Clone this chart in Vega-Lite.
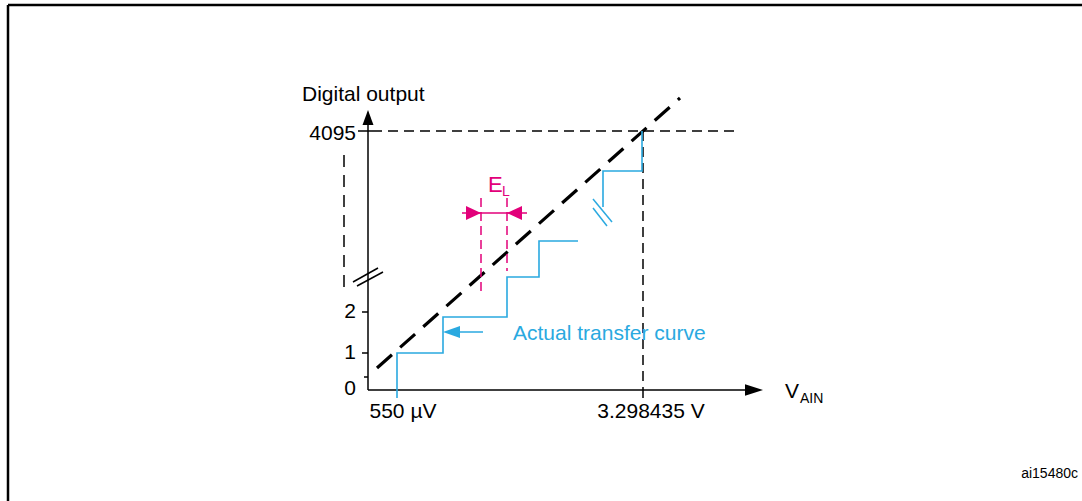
{
  "$schema": "https://vega.github.io/schema/vega-lite/v6.json",
  "width": 1082,
  "height": 501,
  "padding": 0,
  "autosize": {"type": "none"},
  "background": "white",
  "config": {"view": {"stroke": null}},
  "datasets": {
    "segs": [
      {"g": "frame", "x": 8, "y": 5, "x2": 1082, "y2": 5},
      {"g": "frame", "x": 8, "y": 5, "x2": 8, "y2": 501},
      {"g": "axis", "x": 368, "y": 390, "x2": 368, "y2": 123},
      {"g": "axis", "x": 368, "y": 390, "x2": 748, "y2": 390},
      {"g": "axis", "x": 358, "y": 131, "x2": 372, "y2": 131},
      {"g": "axis", "x": 362, "y": 312, "x2": 368, "y2": 312},
      {"g": "axis", "x": 362, "y": 353, "x2": 368, "y2": 353},
      {"g": "axis", "x": 364, "y": 377, "x2": 368, "y2": 377},
      {"g": "axis", "x": 643, "y": 390, "x2": 643, "y2": 398},
      {"g": "axis", "x": 353, "y": 282, "x2": 378, "y2": 268},
      {"g": "axis", "x": 357, "y": 286, "x2": 383, "y2": 272},
      {"g": "dash", "x": 372, "y": 131, "x2": 735, "y2": 131},
      {"g": "dash", "x": 643, "y": 131, "x2": 643, "y2": 390},
      {"g": "dash2", "x": 344, "y": 155, "x2": 344, "y2": 294},
      {"g": "ideal", "x": 377, "y": 368, "x2": 680, "y2": 98},
      {"g": "blue", "x": 458, "y": 332, "x2": 483, "y2": 332},
      {"g": "blue", "x": 593, "y": 199, "x2": 612, "y2": 222},
      {"g": "blue", "x": 593, "y": 208, "x2": 607, "y2": 226},
      {"g": "mag", "x": 462, "y": 213, "x2": 527, "y2": 213},
      {"g": "magdash", "x": 481, "y": 198, "x2": 481, "y2": 295},
      {"g": "magdash", "x": 507, "y": 198, "x2": 507, "y2": 271}
    ],
    "paths": [
      {"p": "low", "i": 0, "x": 397, "y": 398},
      {"p": "low", "i": 1, "x": 397, "y": 353},
      {"p": "low", "i": 2, "x": 443, "y": 353},
      {"p": "low", "i": 3, "x": 443, "y": 317},
      {"p": "low", "i": 4, "x": 507, "y": 317},
      {"p": "low", "i": 5, "x": 507, "y": 277},
      {"p": "low", "i": 6, "x": 539, "y": 277},
      {"p": "low", "i": 7, "x": 539, "y": 241},
      {"p": "low", "i": 8, "x": 578, "y": 241},
      {"p": "high", "i": 0, "x": 603, "y": 207},
      {"p": "high", "i": 1, "x": 603, "y": 171},
      {"p": "high", "i": 2, "x": 642, "y": 171},
      {"p": "high", "i": 3, "x": 642, "y": 131}
    ],
    "heads": [
      {"h": "up", "x": 368, "y": 117.5},
      {"h": "right", "x": 754, "y": 390},
      {"h": "blueleft", "x": 451.5, "y": 332},
      {"h": "magright", "x": 473.5, "y": 213},
      {"h": "magleft", "x": 514.5, "y": 213}
    ],
    "labels": [
      {"g": "left", "t": "Digital output", "x": 302, "y": 101},
      {"g": "right", "t": "4095", "x": 356, "y": 140},
      {"g": "right", "t": "2", "x": 356, "y": 318},
      {"g": "right", "t": "1", "x": 356, "y": 359},
      {"g": "right", "t": "0", "x": 356, "y": 395},
      {"g": "center", "t": "550 µV", "x": 403, "y": 418},
      {"g": "center", "t": "3.298435 V", "x": 651, "y": 418},
      {"g": "left", "t": "V", "x": 785, "y": 398},
      {"g": "sub", "t": "AIN", "x": 800, "y": 403},
      {"g": "blue", "t": "Actual transfer curve", "x": 513, "y": 340},
      {"g": "mag", "t": "E", "x": 488, "y": 192},
      {"g": "magsub", "t": "L", "x": 502, "y": 196},
      {"g": "note", "t": "ai15480c", "x": 1078, "y": 478}
    ]
  },
  "encoding": {
    "x": {"field": "x", "type": "quantitative", "axis": null, "scale": {"domain": [0, 1082], "nice": false, "zero": false}},
    "y": {"field": "y", "type": "quantitative", "axis": null, "scale": {"domain": [0, 501], "reverse": true, "nice": false, "zero": false}}
  },
  "layer": [
    {"data": {"name": "segs"}, "transform": [{"filter": "datum.g === 'frame'"}],
     "mark": {"type": "rule", "color": "black", "strokeWidth": 2.5},
     "encoding": {"x2": {"field": "x2"}, "y2": {"field": "y2"}}},
    {"data": {"name": "segs"}, "transform": [{"filter": "datum.g === 'axis'"}],
     "mark": {"type": "rule", "color": "black", "strokeWidth": 1.5},
     "encoding": {"x2": {"field": "x2"}, "y2": {"field": "y2"}}},
    {"data": {"name": "segs"}, "transform": [{"filter": "datum.g === 'dash'"}],
     "mark": {"type": "rule", "color": "black", "strokeWidth": 1.5, "strokeDash": [10, 6]},
     "encoding": {"x2": {"field": "x2"}, "y2": {"field": "y2"}}},
    {"data": {"name": "segs"}, "transform": [{"filter": "datum.g === 'dash2'"}],
     "mark": {"type": "rule", "color": "black", "strokeWidth": 1.5, "strokeDash": [12, 8]},
     "encoding": {"x2": {"field": "x2"}, "y2": {"field": "y2"}}},
    {"data": {"name": "segs"}, "transform": [{"filter": "datum.g === 'ideal'"}],
     "mark": {"type": "rule", "color": "black", "strokeWidth": 3.2, "strokeDash": [20, 11], "strokeCap": "butt"},
     "encoding": {"x2": {"field": "x2"}, "y2": {"field": "y2"}}},
    {"data": {"name": "segs"}, "transform": [{"filter": "datum.g === 'blue'"}],
     "mark": {"type": "rule", "color": "#2AA9E0", "strokeWidth": 1.5},
     "encoding": {"x2": {"field": "x2"}, "y2": {"field": "y2"}}},
    {"data": {"name": "segs"}, "transform": [{"filter": "datum.g === 'mag'"}],
     "mark": {"type": "rule", "color": "#E2007A", "strokeWidth": 1.5},
     "encoding": {"x2": {"field": "x2"}, "y2": {"field": "y2"}}},
    {"data": {"name": "segs"}, "transform": [{"filter": "datum.g === 'magdash'"}],
     "mark": {"type": "rule", "color": "#E2007A", "strokeWidth": 1.5, "strokeDash": [9, 5]},
     "encoding": {"x2": {"field": "x2"}, "y2": {"field": "y2"}}},
    {"data": {"name": "paths"},
     "mark": {"type": "line", "color": "#2AA9E0", "strokeWidth": 1.6},
     "encoding": {"detail": {"field": "p"}, "order": {"field": "i", "type": "quantitative"}}},
    {"data": {"name": "heads"}, "transform": [{"filter": "datum.h === 'up'"}],
     "mark": {"type": "point", "shape": "M0,-1L0.73,1L-0.73,1Z", "size": 225, "filled": true, "opacity": 1, "color": "black", "strokeWidth": 0}},
    {"data": {"name": "heads"}, "transform": [{"filter": "datum.h === 'right'"}],
     "mark": {"type": "point", "shape": "M1,0L-1,-0.65L-1,0.65Z", "size": 324, "filled": true, "opacity": 1, "color": "black", "strokeWidth": 0}},
    {"data": {"name": "heads"}, "transform": [{"filter": "datum.h === 'blueleft'"}],
     "mark": {"type": "point", "shape": "M-1,0L1,-0.7L1,0.7Z", "size": 289, "filled": true, "opacity": 1, "color": "#2AA9E0", "strokeWidth": 0}},
    {"data": {"name": "heads"}, "transform": [{"filter": "datum.h === 'magright'"}],
     "mark": {"type": "point", "shape": "M1,0L-1,-0.93L-1,0.93Z", "size": 225, "filled": true, "opacity": 1, "color": "#E2007A", "strokeWidth": 0}},
    {"data": {"name": "heads"}, "transform": [{"filter": "datum.h === 'magleft'"}],
     "mark": {"type": "point", "shape": "M-1,0L1,-0.93L1,0.93Z", "size": 225, "filled": true, "opacity": 1, "color": "#E2007A", "strokeWidth": 0}},
    {"data": {"name": "labels"}, "transform": [{"filter": "datum.g === 'left'"}],
     "mark": {"type": "text", "align": "left", "baseline": "alphabetic", "font": "Liberation Sans", "fontSize": 21, "color": "black"},
     "encoding": {"text": {"field": "t"}}},
    {"data": {"name": "labels"}, "transform": [{"filter": "datum.g === 'right'"}],
     "mark": {"type": "text", "align": "right", "baseline": "alphabetic", "font": "Liberation Sans", "fontSize": 21, "color": "black"},
     "encoding": {"text": {"field": "t"}}},
    {"data": {"name": "labels"}, "transform": [{"filter": "datum.g === 'center'"}],
     "mark": {"type": "text", "align": "center", "baseline": "alphabetic", "font": "Liberation Sans", "fontSize": 21, "color": "black"},
     "encoding": {"text": {"field": "t"}}},
    {"data": {"name": "labels"}, "transform": [{"filter": "datum.g === 'sub'"}],
     "mark": {"type": "text", "align": "left", "baseline": "alphabetic", "font": "Liberation Sans", "fontSize": 14, "color": "black"},
     "encoding": {"text": {"field": "t"}}},
    {"data": {"name": "labels"}, "transform": [{"filter": "datum.g === 'blue'"}],
     "mark": {"type": "text", "align": "left", "baseline": "alphabetic", "font": "Liberation Sans", "fontSize": 21, "color": "#2AA9E0"},
     "encoding": {"text": {"field": "t"}}},
    {"data": {"name": "labels"}, "transform": [{"filter": "datum.g === 'mag'"}],
     "mark": {"type": "text", "align": "left", "baseline": "alphabetic", "font": "Liberation Sans", "fontSize": 22, "color": "#E2007A"},
     "encoding": {"text": {"field": "t"}}},
    {"data": {"name": "labels"}, "transform": [{"filter": "datum.g === 'magsub'"}],
     "mark": {"type": "text", "align": "left", "baseline": "alphabetic", "font": "Liberation Sans", "fontSize": 14, "color": "#E2007A"},
     "encoding": {"text": {"field": "t"}}},
    {"data": {"name": "labels"}, "transform": [{"filter": "datum.g === 'note'"}],
     "mark": {"type": "text", "align": "right", "baseline": "alphabetic", "font": "Liberation Sans", "fontSize": 14, "color": "black"},
     "encoding": {"text": {"field": "t"}}}
  ]
}
